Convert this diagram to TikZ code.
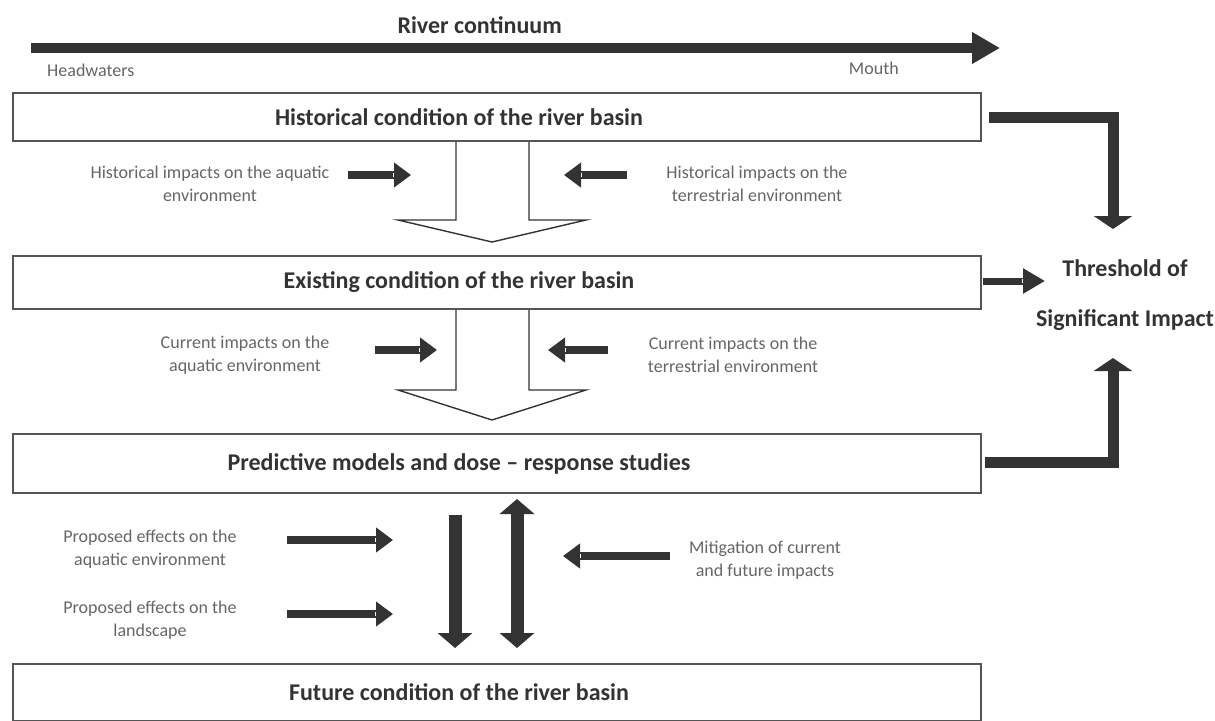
\documentclass[tikz,border=0pt]{standalone}
\usepackage{fontspec}
\setmainfont{Carlito}
\usetikzlibrary{arrows.meta,calc,decorations.markings}
\definecolor{ink}{HTML}{333333}
\definecolor{boxline}{HTML}{555555}
\definecolor{note}{HTML}{666666}

\begin{document}
\begin{tikzpicture}[x=1pt,y=-1pt,
  stage/.style={draw=boxline, line width=2pt, fill=white, minimum width=968pt, inner sep=0pt, anchor=north west},
  heading/.style={font=\fontsize{24}{28}\selectfont\bfseries, text=ink, inner sep=0pt},
  remark/.style={font=\fontsize{18}{23}\selectfont, text=note, align=center, inner sep=0pt},
  hollow/.style={draw=ink, line width=1.4pt, fill=white, line join=miter},
  main/.style={draw=ink, line width=10pt, -{Triangle[length=28pt,width=30pt]}},
  notch/.style={postaction={decorate}, decoration={markings,
      mark=at position 0.9999 with {\draw[white, line width=1.6pt, -] (-#1,-2.3pt) -- (-#1,2.3pt);}}},
  push/.style={draw=ink, line width=8pt, -{Triangle[length=17pt,width=24pt]}, notch=17.5pt},
  feed/.style={draw=ink, line width=11pt, line join=miter, -{Triangle[length=13pt,width=38pt]}},
  side/.style={draw=ink, line width=7pt, -{Triangle[length=22pt,width=24pt]}, notch=22.5pt},
  drop/.style={draw=ink, line width=13pt, -{Triangle[length=15pt,width=34pt]}},
  twoway/.style={draw=ink, line width=13pt, {Triangle[length=15pt,width=34pt]}-{Triangle[length=15pt,width=34pt]}},
]
\useasboundingbox (0,0) rectangle (1215,720);
\fill[white] (0,0) rectangle (1215,720);

% river continuum axis
\coordinate (head) at (31,48);
\coordinate (mouth) at (1000,48);
\draw[main] (head) -- (mouth);
\node[heading, anchor=east] (rc) at (562,25) {River continuum};
\node[remark, anchor=west] (hwl) at (47,70) {Headwaters};
\node[remark, anchor=east] (mol) at (899,68) {Mouth};

% condition boxes
\node[stage, minimum height=48pt] (h1) at (12,92) {};
\node[stage, minimum height=53pt] (h2) at (12,255) {};
\node[stage, minimum height=59pt] (h3) at (12,433) {};
\node[stage, minimum height=57pt] (h4) at (12,663) {};

\node[heading] (t1) at ($(h1.center)+(-38,0)$) {Historical condition of the river basin};
\node[heading] (t2) at ($(h2.center)+(-38,0)$) {Existing condition of the river basin};
\node[heading] (t3) at ($(h3.center)+(-38,0)$) {Predictive models and dose -- response studies};
\node[heading] (t4) at ($(h4.center)+(-38,0)$) {Future condition of the river basin};

% hollow block arrows between the boxes
\draw[hollow] ([xshift=-41pt]h1.south) -- ++(0,78) -- ++(-58,0) -- ++(94,22) -- ++(94,-22) -- ++(-57,0) -- ([xshift=32pt]h1.south);
\draw[hollow] ([xshift=-41pt]h2.south) -- ++(0,80) -- ++(-58,0) -- ++(94,30) -- ++(94,-30) -- ++(-57,0) -- ([xshift=32pt]h2.south);

% historical impacts
\node[remark] (ha) at (210,184) {Historical impacts on the aquatic\\environment};
\node[remark] (ht) at (757,184) {Historical impacts on the\\terrestrial environment};
\coordinate (ha1) at (348,175); \coordinate (ha2) at (411,175);
\coordinate (ht1) at (627,175); \coordinate (ht2) at (564,175);
\draw[push] (ha1) -- (ha2);
\draw[push] (ht1) -- (ht2);

% current impacts
\node[remark] (ca) at (245,355) {Current impacts on the\\aquatic environment};
\node[remark] (ct) at (733,355) {Current impacts on the\\terrestrial environment};
\coordinate (ca1) at (375,350); \coordinate (ca2) at (437,350);
\coordinate (ct1) at (608,350); \coordinate (ct2) at (548,350);
\draw[push] (ca1) -- (ca2);
\draw[push] (ct1) -- (ct2);

% threshold of significant impact
\node[heading, font=\fontsize{24}{50}\selectfont\bfseries, align=center] (thr) at (1125,295) {Threshold of\\Significant Impact};
\coordinate (f1a) at (989,117); \coordinate (f1b) at (1113,229);
\coordinate (f2a) at (983,281); \coordinate (f2b) at (1045,281);
\coordinate (f3a) at (985,462); \coordinate (f3b) at (1113,358);
\draw[feed] (f1a) -| (f1b);
\draw[side] (f2a) -- (f2b);
\draw[feed] (f3a) -| (f3b);

% from predictions to future condition
\coordinate (d1) at (455,515); \coordinate (d2) at (455,648);
\coordinate (w1) at (517,499); \coordinate (w2) at (517,648);
\draw[drop] (d1) -- (d2);
\draw[twoway] (w1) -- (w2);

\node[remark] (pa) at (150,549) {Proposed effects on the\\aquatic environment};
\node[remark] (pl) at (150,620) {Proposed effects on the\\landscape};
\node[remark] (mi) at (765,560) {Mitigation of current\\and future impacts};
\coordinate (pa1) at (287,540); \coordinate (pa2) at (393,540);
\coordinate (pl1) at (287,614); \coordinate (pl2) at (393,614);
\coordinate (mi1) at (670,556); \coordinate (mi2) at (563,556);
\draw[push] (pa1) -- (pa2);
\draw[push] (pl1) -- (pl2);
\draw[push] (mi1) -- (mi2);
\end{tikzpicture}
\end{document}
